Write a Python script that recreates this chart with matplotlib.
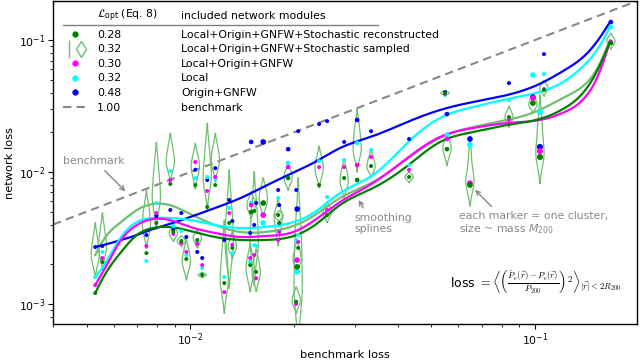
import numpy as np
import matplotlib.pyplot as plt
from matplotlib.lines import Line2D
from matplotlib.legend_handler import HandlerTuple

plt.rcParams['font.size'] = 7.8

# one entry per cluster
bench_loss = [0.0053, 0.00556, 0.00746, 0.00797, 0.00875, 0.00893, 0.00942, 0.00974, 0.01034, 0.01048,
              0.01083, 0.0112, 0.01182, 0.01297, 0.01255, 0.01324, 0.01502, 0.01628, 0.01533, 0.01492,
              0.01553, 0.01799, 0.01811, 0.01923, 0.02056, 0.02042, 0.02029, 0.02365, 0.02495, 0.02795,
              0.03049, 0.03346, 0.04313, 0.05484, 0.05557, 0.06479, 0.08406, 0.09867, 0.1062, 0.1034, 0.1661]
loss_origin_gnfw = [2.70e-3, 2.75e-3, 3.33e-3, 4.64e-3, 5.15e-3, 3.64e-3, 4.89e-3, 3.22e-3, 1.04e-2, 2.48e-3,
                    2.23e-3, 8.70e-3, 1.07e-2, 6.14e-3, 3.05e-3, 4.25e-3, 1.69e-2, 1.69e-2, 3.97e-3, 3.45e-3,
                    5.82e-3, 7.31e-3, 5.62e-3, 1.49e-2, 2.04e-2, 5.24e-3, 7.31e-3, 2.31e-2, 2.43e-2, 1.69e-2,
                    2.48e-2, 2.04e-2, 1.78e-2, 4.04e-2, 2.75e-2, 1.78e-2, 4.72e-2, 3.70e-2, 7.83e-2, 1.55e-2, 0.137]
loss_local = [1.60e-3, 2.48e-3, 2.12e-3, 5.82e-3, 1.02e-2, 3.90e-3, 3.57e-3, 2.35e-3, 9.01e-3, 2.90e-3,
              1.87e-3, 9.17e-3, 8.85e-3, 5.34e-3, 1.60e-3, 2.43e-3, 5.82e-3, 4.11e-3, 2.80e-3, 2.08e-3,
              2.75e-3, 6.35e-3, 3.97e-3, 1.17e-2, 3.33e-3, 1.75e-3, 3.05e-3, 1.21e-2, 6.47e-3, 1.23e-2,
              1.66e-2, 1.47e-2, 1.13e-2, 3.83e-2, 1.91e-2, 1.60e-2, 3.51e-2, 5.43e-2, 5.53e-2, 2.85e-2, 0.1255]
loss_log = [1.39e-3, 2.23e-3, 2.75e-3, 4.89e-3, 8.70e-3, 3.39e-3, 2.90e-3, 2.48e-3, 1.19e-2, 2.85e-3,
            1.97e-3, 7.18e-3, 9.17e-3, 4.89e-3, 1.23e-3, 2.80e-3, 5.62e-3, 4.72e-3, 2.35e-3, 2.23e-3,
            1.57e-3, 3.05e-3, 3.51e-3, 1.09e-2, 2.95e-3, 2.15e-3, 1.00e-3, 1.09e-2, 5.15e-3, 1.09e-2,
            1.13e-2, 1.30e-2, 1.04e-2, 3.90e-2, 1.78e-2, 8.25e-3, 2.48e-2, 3.64e-2, 4.25e-2, 1.44e-2, 0.0966]
loss_recon = [1.21e-3, 2.08e-3, 2.43e-3, 4.11e-3, 8.11e-3, 3.51e-3, 3.00e-3, 2.19e-3, 7.97e-3, 3.05e-3,
              1.66e-3, 5.43e-3, 7.97e-3, 4.11e-3, 1.44e-3, 2.66e-3, 4.98e-3, 5.82e-3, 5.07e-3, 1.97e-3,
              1.75e-3, 4.72e-3, 4.11e-3, 9.01e-3, 2.66e-3, 1.91e-3, 1.04e-3, 7.97e-3, 4.72e-3, 9.01e-3,
              8.70e-3, 1.11e-2, 9.17e-3, 3.97e-2, 1.49e-2, 7.97e-3, 2.61e-2, 3.33e-2, 4.18e-2, 1.30e-2, 0.0949]
loss_sampled = [
    [3.16e-3, 2.57e-3, 2.35e-3, 2.08e-3], [3.70e-3, 2.95e-3, 2.70e-3, 2.39e-3],
    [5.43e-3, 4.48e-3, 3.97e-3, 3.51e-3], [1.09e-2, 7.97e-3, 6.35e-3, 5.72e-3],
    [1.55e-2, 1.30e-2, 1.19e-2, 1.07e-2], [3.64e-3, 3.45e-3, 3.27e-3],
    [3.11e-3, 3.00e-3, 2.90e-3], [2.57e-3, 2.23e-3, 2.08e-3, 1.87e-3],
    [1.32e-2, 1.15e-2, 1.07e-2, 9.33e-3], [3.33e-3, 3.16e-3, 2.95e-3],
    [1.69e-3, 1.66e-3, 1.63e-3], [1.57e-2, 1.19e-2, 1.00e-2, 8.70e-3, 7.83e-3],
    [1.55e-2, 1.32e-2, 1.21e-2, 1.07e-2], [6.14e-3, 4.48e-3, 3.77e-3, 3.05e-3, 2.57e-3, 2.23e-3],
    [2.80e-3, 2.08e-3, 1.66e-3, 1.47e-3, 1.32e-3], [3.05e-3, 2.75e-3, 2.57e-3],
    [6.14e-3, 5.62e-3, 5.15e-3], [7.31e-3, 6.35e-3, 5.62e-3],
    [5.93e-3, 4.33e-3, 3.33e-3, 2.80e-3, 2.35e-3], [2.27e-3, 1.97e-3, 1.81e-3, 1.57e-3],
    [2.08e-3, 1.75e-3, 1.57e-3], [5.07e-3, 4.72e-3, 4.41e-3, 3.97e-3, 3.45e-3],
    [4.81e-3, 4.64e-3, 4.48e-3], [1.00e-2, 9.17e-3, 8.40e-3],
    [4.18e-3, 3.05e-3, 2.15e-3, 1.52e-3, 1.17e-3, 1.02e-3], [2.57e-3, 2.23e-3, 2.08e-3],
    [1.17e-3, 1.07e-3, 9.83e-4], [1.28e-2, 1.13e-2, 1.04e-2, 9.33e-3],
    [5.34e-3, 4.98e-3, 4.64e-3], [1.04e-2, 9.17e-3, 8.40e-3, 7.70e-3],
    [2.23e-2, 1.91e-2, 1.60e-2, 1.47e-2, 1.35e-2], [1.28e-2, 1.17e-2, 1.09e-2, 1.04e-2],
    [9.49e-3, 9.17e-3, 8.85e-3], [4.04e-2, 3.97e-2, 3.90e-2],
    [1.69e-2, 1.55e-2, 1.47e-2, 1.32e-2], [1.35e-2, 1.00e-2, 8.70e-3, 8.11e-3, 7.70e-3],
    [2.85e-2, 2.66e-2, 2.57e-2, 2.43e-2], [3.51e-2, 3.27e-2, 3.11e-2],
    [4.56e-2, 4.33e-2, 4.11e-2], [2.57e-2, 2.08e-2, 1.60e-2, 1.42e-2, 1.30e-2, 1.23e-2],
    [0.1036, 0.0983, 0.0933],
]
mass = [1.5, 1.5, 1.5, 1.5, 1.5, 1.5, 1.5, 1.5, 1.5, 1.5,
        1.5, 1.5, 1.5, 1.5, 1.5, 1.5, 2.0, 3.0, 1.5, 1.5,
        1.5, 1.5, 1.5, 2.0, 1.5, 3.0, 1.5, 1.5, 1.5, 1.5,
        2.0, 1.5, 1.5, 1.5, 2.0, 3.0, 1.5, 3.0, 1.5, 3.5, 2.0]

# smoothing splines
spline_x = [0.0053, 0.0056, 0.0063, 0.0070, 0.0078, 0.0087, 0.0100, 0.0118, 0.0140, 0.0165, 0.0195, 0.0230,
            0.0272, 0.0339, 0.0426, 0.0530, 0.0661, 0.0830, 0.103, 0.122, 0.140, 0.154, 0.165]
spline_recon = [1.212e-3, 1.601e-3, 2.477e-3, 3.332e-3, 3.765e-3, 3.831e-3, 3.573e-3, 3.218e-3, 3.054e-3,
                3.054e-3, 3.218e-3, 3.967e-3, 5.623e-3, 7.564e-3, 1.111e-2, 1.687e-2, 2.009e-2, 2.270e-2,
                2.520e-2, 3.054e-2, 4.180e-2, 6.354e-2, 9.66e-2]
spline_sampled = [2.350e-3, 3.054e-3, 4.180e-3, 5.153e-3, 5.722e-3, 5.623e-3, 4.807e-3, 3.967e-3, 3.511e-3,
                  3.511e-3, 3.831e-3, 4.724e-3, 6.354e-3, 8.399e-3, 1.255e-2, 1.809e-2, 2.192e-2, 2.477e-2,
                  2.949e-2, 3.700e-2, 4.642e-2, 6.579e-2, 0.100]
spline_log = [1.393e-3, 1.778e-3, 3.054e-3, 3.967e-3, 4.405e-3, 4.329e-3, 3.831e-3, 3.450e-3, 3.218e-3,
              3.274e-3, 3.450e-3, 4.329e-3, 5.925e-3, 8.254e-3, 1.277e-2, 1.841e-2, 2.154e-2, 2.350e-2,
              2.477e-2, 2.848e-2, 3.700e-2, 5.722e-2, 9.66e-2]
spline_local = [1.601e-3, 1.940e-3, 3.218e-3, 4.180e-3, 4.483e-3, 4.483e-3, 4.329e-3, 3.967e-3, 3.765e-3,
                3.831e-3, 4.108e-3, 4.978e-3, 6.933e-3, 9.490e-3, 1.658e-2, 2.565e-2, 3.107e-2, 3.573e-2,
                4.037e-2, 4.892e-2, 6.579e-2, 9.006e-2, 0.1255]
spline_origin_gnfw = [2.703e-3, 2.799e-3, 3.054e-3, 3.332e-3, 3.700e-3, 4.037e-3, 4.562e-3, 5.336e-3, 6.354e-3,
                      7.833e-3, 9.657e-3, 1.191e-2, 1.520e-2, 1.874e-2, 2.392e-2, 2.949e-2, 3.391e-2, 3.831e-2,
                      4.642e-2, 5.925e-2, 7.697e-2, 0.1036, 0.1369]

loss_opt = [0.28, 0.32, 0.30, 0.32, 0.48, 1.00]
modules = ['Local+Origin+GNFW+Stochastic reconstructed', 'Local+Origin+GNFW+Stochastic sampled',
           'Local+Origin+GNFW', 'Local', 'Origin+GNFW', 'benchmark']

LG = '#6fbf6f'
GREY = '#888888'


def spline_curve(xs, ys, n=400):
    # natural cubic spline in log-log space
    lx, ly = np.log10(xs), np.log10(ys)
    h = np.diff(lx)
    m = len(lx)
    A = np.zeros((m, m))
    r = np.zeros(m)
    A[0, 0] = A[-1, -1] = 1
    for i in range(1, m - 1):
        A[i, i - 1] = h[i - 1]
        A[i, i] = 2 * (h[i - 1] + h[i])
        A[i, i + 1] = h[i]
        r[i] = 3 * ((ly[i + 1] - ly[i]) / h[i] - (ly[i] - ly[i - 1]) / h[i - 1])
    c = np.linalg.solve(A, r)
    b = np.diff(ly) / h - h * (2 * c[:-1] + c[1:]) / 3
    d = np.diff(c) / (3 * h)
    t = np.linspace(lx[0], lx[-1], n)
    k = np.clip(np.searchsorted(lx, t) - 1, 0, m - 2)
    dt = t - lx[k]
    yy = ly[k] + b[k] * dt + c[k] * dt ** 2 + d[k] * dt ** 3
    return 10 ** t, 10 ** yy


fig = plt.figure(figsize=(6.4, 3.6), dpi=100)
ax = fig.add_axes([0.083, 0.1, 0.912, 0.897])
ax.set_xscale('log')
ax.set_yscale('log')

ax.axline((1e-2, 1e-2), (1e-1, 1e-1), color=GREY, ls='--', lw=1.5, dashes=(4, 2.5), zorder=1)

# violins of the sampled losses
for x0, samp in zip(bench_loss, loss_sampled):
    ls = np.log10(samp)
    bw = max(ls.std(ddof=1) * len(ls) ** -0.2, 0.006)
    grid = np.linspace(ls.min() - 2 * bw, ls.max() + 2 * bw, 80)
    dens = np.exp(-0.5 * ((grid[:, None] - ls[None, :]) / bw) ** 2).sum(1)
    half = 0.012 * dens / dens.max()
    vx = np.concatenate([x0 * 10 ** half, (x0 * 10 ** -half)[::-1]])
    vy = 10 ** np.concatenate([grid, grid[::-1]])
    ax.plot(np.append(vx, vx[0]), np.append(vy, vy[0]), color=LG, lw=0.9, zorder=2)

for ys, col in [(spline_sampled, LG), (spline_origin_gnfw, 'blue'), (spline_local, 'cyan'),
                (spline_log, 'magenta'), (spline_recon, 'green')]:
    cx, cy = spline_curve(spline_x, ys)
    ax.plot(cx, cy, color=col, lw=1.6, zorder=3)

sizes = 5.5 * np.array(mass)
for ys, col in [(loss_origin_gnfw, 'blue'), (loss_local, 'cyan'), (loss_log, 'magenta'), (loss_recon, 'green')]:
    ax.scatter(bench_loss, ys, s=sizes, color=col, linewidths=0, zorder=4)

ax.set_xlim(4.0e-3, 0.1975)
ax.set_ylim(7.05e-4, 0.1975)
ax.tick_params(which='both', pad=2)
ax.set_xlabel('benchmark loss', labelpad=1.5, fontsize=8.2)
ax.set_ylabel('network loss', labelpad=3, fontsize=8.2)
for sp in ax.spines.values():
    sp.set_linewidth(1.0)

# legend as a small table
dot = dict(marker='o', ls='none', ms=3.5)
handles = [Line2D([], [], color='green', **dot),
           (Line2D([], [], color=LG, marker='|', ms=13, ls='none'),
            Line2D([], [], color=LG, marker='d', ms=8, mfc='white', ls='none')),
           Line2D([], [], color='magenta', **dot),
           Line2D([], [], color='cyan', **dot),
           Line2D([], [], color='blue', **dot),
           Line2D([], [], color=GREY, ls='--', lw=1.5, dashes=(4, 2.5))]
handles += [Line2D([], [], ls='none')] * len(modules)
labels = [f'{v:.2f}' for v in loss_opt] + modules
ax.legend(handles, labels, ncol=2, loc='upper left', bbox_to_anchor=(0.017, 0.911), frameon=False,
          borderpad=0, borderaxespad=0, handlelength=2.2, handletextpad=0.92, columnspacing=2.42,
          labelspacing=0.42, handler_map={tuple: HandlerTuple(ndivide=None)})
ax.text(0.0753, 0.954, r'$\mathcal{L}_\mathrm{opt}$ (Eq. 8)', transform=ax.transAxes, va='center')
ax.text(0.219, 0.954, 'included network modules', transform=ax.transAxes, va='center')
ax.plot([0.017, 0.556], [0.926, 0.926], transform=ax.transAxes, color='0.5', lw=1)

arrow = dict(arrowstyle='->', color=GREY, lw=1)
ax.annotate('benchmark', xy=(0.00657, 0.0069), xytext=(0.017, 0.505), textcoords='axes fraction',
            color=GREY, va='center', arrowprops=dict(arrow, relpos=(0.6, 0)))
ax.annotate('smoothing\nsplines', xy=(0.0305, 0.0064), xytext=(0.517, 0.311), textcoords='axes fraction',
            color=GREY, va='center', linespacing=1.1, arrowprops=dict(arrow, relpos=(0.2, 1)))
ax.annotate('each marker = one cluster,\nsize ~ mass $M_{200}$', xy=(0.0661, 0.0076),
            xytext=(0.695, 0.311), textcoords='axes fraction', color=GREY, va='center', linespacing=1.1,
            arrowprops=dict(arrow, relpos=(0.25, 1)))
ax.text(0.68, 0.128,
        r'loss $= \left\langle \left( \frac{\hat{P}_e(\vec{r}) - P_e(\vec{r})}{P_{200}} \right)^{2}'
        r' \right\rangle_{|\vec{r}|<2R_{200}}$',
        transform=ax.transAxes, va='center', math_fontfamily='cm', fontsize=9)

fig.savefig('out.png', dpi=100)
